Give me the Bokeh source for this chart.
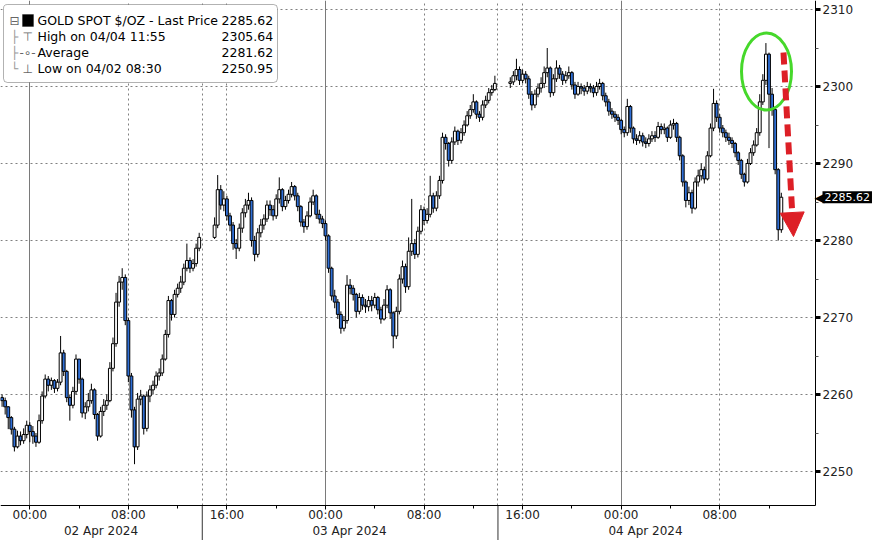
import pandas as pd
from bokeh.plotting import figure
from bokeh.models import (Range1d, FixedTicker, Grid, Label, BoxAnnotation, Arrow,
                          NormalHead, ColumnDataSource, LinearAxis)
from bokeh.embed import file_html
from bokeh.resources import INLINE

# ---------------- data (15-minute candles, GOLD SPOT $/OZ) ----------------
seg_start = ["2024-04-01 21:45", "2024-04-02 15:00", "2024-04-03 15:00"]
first_open = 2259.6

A_close = [2259.2, 2258.4,
           2257.0, 2255.5, 2253.2, 2254.6, 2254.0, 2254.8, 2256.0, 2255.2, 2254.6, 2253.8,
           2256.6, 2259.8, 2262.0, 2261.2, 2261.8, 2260.8, 2261.6, 2265.4, 2263.0, 2259.6,
           2258.6, 2260.4, 2264.6, 2262.0, 2257.6, 2258.4, 2259.2, 2260.6, 2257.4, 2254.6,
           2257.8, 2258.6, 2259.2, 2263.4, 2266.6, 2272.0, 2274.6, 2275.2, 2269.6, 2262.4,
           2258.0, 2253.2, 2259.4, 2259.8, 2255.6, 2259.8, 2260.6, 2261.2, 2262.4, 2262.8,
           2264.6, 2267.8, 2272.2, 2270.4, 2273.0, 2273.8, 2274.6, 2276.4, 2277.4, 2276.4,
           2277.0, 2279.0, 2280.4]
A_high = [2260.0, 2259.6,
          2258.5, 2257.2, 2255.8, 2255.3, 2255.2, 2255.6, 2256.6, 2256.4, 2255.9, 2255.0,
          2257.4, 2260.4, 2262.6, 2262.4, 2262.2, 2262.0, 2262.0, 2267.6, 2265.8, 2263.2,
          2260.0, 2261.0, 2265.2, 2264.6, 2262.2, 2259.0, 2260.2, 2261.4, 2260.8, 2257.6,
          2258.4, 2259.4, 2260.0, 2264.2, 2267.4, 2273.2, 2275.4, 2276.4, 2275.6, 2270.0,
          2262.8, 2258.4, 2260.2, 2260.6, 2260.0, 2260.4, 2261.2, 2261.8, 2263.0, 2263.4,
          2265.2, 2268.4, 2272.8, 2272.4, 2273.6, 2274.4, 2275.4, 2277.0, 2279.6, 2277.8,
          2277.6, 2279.6, 2281.0]
A_low = [2258.4, 2257.4,
         2255.5, 2254.8, 2252.6, 2253.0, 2253.4, 2253.6, 2254.3, 2253.8, 2253.6, 2253.2,
         2253.6, 2256.2, 2259.5, 2260.4, 2260.6, 2260.2, 2260.4, 2261.2, 2262.4, 2259.0,
         2256.6, 2258.2, 2260.0, 2261.4, 2257.0, 2256.8, 2257.8, 2258.8, 2256.8, 2254.0,
         2254.4, 2257.2, 2258.0, 2259.0, 2263.0, 2266.2, 2271.4, 2273.6, 2269.0, 2261.6,
         2257.0, 2250.95, 2252.8, 2258.6, 2254.8, 2255.2, 2259.0, 2260.0, 2260.8, 2261.8,
         2262.4, 2264.4, 2267.4, 2269.6, 2270.0, 2272.6, 2273.2, 2274.2, 2276.0, 2275.8,
         2276.0, 2276.6, 2278.6]

B_close = [2282.0, 2286.6, 2284.6, 2285.4, 2283.2, 2282.0, 2279.6, 2279.0, 2281.6, 2283.6,
           2284.6, 2285.2, 2280.0, 2278.2, 2281.0, 2282.0, 2282.8, 2284.6, 2284.0, 2283.2,
           2285.4, 2286.6, 2284.4, 2285.2, 2286.0, 2287.0, 2285.8, 2284.4, 2282.4, 2281.8,
           2283.2, 2285.0, 2285.8, 2283.4, 2282.8, 2282.2, 2280.6, 2276.4, 2272.8, 2272.0,
           2270.4, 2268.6, 2269.6, 2274.2, 2273.8, 2273.0, 2270.8, 2272.6, 2271.6, 2271.4,
           2272.2, 2271.6, 2272.6, 2271.0, 2269.8, 2271.6, 2273.6, 2270.6, 2267.6, 2270.8,
           2275.0, 2276.6, 2274.0, 2278.6, 2279.6, 2278.2, 2281.2, 2284.0, 2282.6, 2283.4,
           2285.8, 2284.2, 2285.8, 2287.8, 2293.4, 2292.6, 2290.4, 2292.8, 2294.2, 2293.0,
           2294.0, 2295.0, 2296.2, 2297.0, 2298.0, 2296.4, 2296.0, 2297.6, 2298.2, 2299.2,
           2299.6, 2300.4]
B_high = [2283.0, 2288.5, 2287.2, 2286.4, 2285.8, 2283.6, 2282.4, 2280.2, 2282.2, 2284.2,
          2285.4, 2286.2, 2285.6, 2280.6, 2281.6, 2282.8, 2283.4, 2285.2, 2285.2, 2284.6,
          2286.0, 2288.2, 2286.8, 2285.8, 2286.6, 2287.6, 2287.2, 2286.2, 2284.6, 2282.8,
          2283.8, 2285.6, 2286.6, 2286.0, 2284.0, 2283.2, 2282.6, 2280.8, 2276.6, 2273.6,
          2272.4, 2270.8, 2270.2, 2275.5, 2275.0, 2274.2, 2273.2, 2273.2, 2273.0, 2272.4,
          2272.8, 2272.8, 2273.2, 2272.8, 2271.4, 2272.4, 2274.2, 2273.8, 2270.8, 2271.4,
          2275.6, 2277.4, 2277.0, 2280.4, 2285.4, 2280.2, 2281.8, 2284.6, 2284.4, 2284.2,
          2288.4, 2286.2, 2286.4, 2288.4, 2294.0, 2293.8, 2292.8, 2293.4, 2294.8, 2294.4,
          2294.6, 2295.6, 2296.8, 2297.6, 2299.0, 2298.2, 2296.8, 2298.2, 2298.8, 2299.8,
          2300.2, 2301.4]
B_low = [2280.2, 2281.6, 2284.0, 2283.8, 2282.6, 2281.2, 2278.8, 2277.6, 2278.6, 2281.0,
         2283.0, 2284.0, 2279.2, 2277.3, 2277.8, 2280.4, 2281.4, 2282.4, 2283.2, 2282.6,
         2282.8, 2284.8, 2283.8, 2284.0, 2284.8, 2285.6, 2285.2, 2283.8, 2281.8, 2281.0,
         2281.4, 2283.0, 2284.6, 2282.8, 2282.2, 2281.6, 2280.0, 2275.8, 2272.2, 2271.2,
         2269.8, 2267.9, 2268.2, 2269.2, 2273.0, 2272.2, 2270.0, 2270.4, 2271.0, 2270.6,
         2270.8, 2270.8, 2271.2, 2270.4, 2269.2, 2269.6, 2271.2, 2269.8, 2266.0, 2267.2,
         2270.4, 2274.4, 2273.2, 2273.6, 2278.0, 2277.6, 2277.8, 2280.8, 2282.0, 2282.2,
         2283.0, 2283.6, 2283.8, 2285.4, 2287.4, 2291.8, 2289.6, 2290.0, 2292.4, 2292.4,
         2292.6, 2293.6, 2294.8, 2295.8, 2296.6, 2295.8, 2295.4, 2295.6, 2297.2, 2297.8,
         2298.8, 2299.4]

C_close = [2300.6, 2301.4, 2302.2, 2300.8, 2301.6, 2301.0, 2299.0, 2297.6, 2299.0, 2299.8,
           2300.4, 2301.8, 2302.4, 2299.2, 2301.0, 2302.4, 2301.6, 2300.8, 2301.4, 2301.8,
           2300.2, 2299.0, 2300.0, 2299.8, 2299.4, 2300.0, 2299.8, 2299.2, 2300.0, 2300.4,
           2298.8, 2298.0, 2296.8, 2296.4, 2296.0, 2295.6, 2294.4, 2294.0, 2297.4, 2294.6,
           2293.2, 2293.0, 2293.6, 2292.8, 2292.6, 2293.2, 2293.6, 2293.4, 2294.8, 2294.4,
           2294.6, 2293.4, 2295.0, 2295.2, 2293.4, 2291.0, 2287.6, 2285.2, 2286.2, 2284.2,
           2287.6, 2288.4, 2289.2, 2288.0, 2291.0, 2294.6, 2297.8, 2296.0, 2294.6, 2294.0,
           2293.4, 2293.0, 2292.6, 2291.4, 2290.4, 2288.6, 2287.6, 2290.0, 2291.4, 2292.4,
           2294.0, 2298.0, 2300.8, 2304.2, 2299.0, 2297.0, 2289.2, 2281.4, 2285.62]
C_high = [2301.2, 2302.0, 2303.6, 2302.6, 2302.2, 2302.0, 2301.4, 2299.4, 2299.6, 2300.4,
          2301.2, 2302.6, 2305.0, 2302.6, 2301.6, 2303.4, 2302.8, 2302.0, 2302.0, 2302.6,
          2302.0, 2300.6, 2300.6, 2300.4, 2300.2, 2300.6, 2300.4, 2300.2, 2300.6, 2301.0,
          2300.6, 2299.2, 2298.4, 2297.2, 2296.8, 2296.4, 2295.8, 2294.8, 2298.4, 2297.6,
          2294.8, 2293.8, 2294.2, 2294.0, 2293.4, 2293.8, 2294.2, 2294.2, 2295.4, 2295.2,
          2295.2, 2294.8, 2295.6, 2295.8, 2295.4, 2293.6, 2291.2, 2287.8, 2287.0, 2286.6,
          2288.2, 2289.2, 2290.0, 2289.6, 2291.6, 2295.2, 2299.7, 2298.2, 2296.4, 2295.0,
          2294.4, 2294.0, 2293.4, 2292.8, 2291.6, 2290.6, 2288.8, 2290.6, 2292.0, 2293.0,
          2294.6, 2299.0, 2301.6, 2305.64, 2304.4, 2299.8, 2297.4, 2289.4, 2286.2]
C_low = [2299.8, 2300.2, 2300.8, 2300.2, 2300.4, 2300.4, 2298.4, 2296.9, 2297.2, 2298.6,
         2299.2, 2299.8, 2301.2, 2298.6, 2298.8, 2300.6, 2301.0, 2300.2, 2300.4, 2301.0,
         2299.6, 2298.4, 2298.8, 2299.0, 2298.8, 2299.0, 2299.2, 2298.6, 2298.8, 2299.6,
         2298.2, 2297.4, 2296.2, 2295.8, 2295.4, 2295.0, 2293.8, 2293.4, 2293.6, 2294.0,
         2292.6, 2292.4, 2292.6, 2292.2, 2292.0, 2292.2, 2292.8, 2292.8, 2293.2, 2293.8,
         2293.8, 2292.8, 2293.2, 2294.4, 2292.8, 2290.4, 2287.0, 2284.3, 2284.6, 2283.5,
         2284.0, 2287.0, 2287.8, 2287.4, 2287.8, 2290.8, 2294.2, 2295.4, 2294.0, 2293.4,
         2292.8, 2292.4, 2292.0, 2290.8, 2289.8, 2288.0, 2287.0, 2287.4, 2289.8, 2291.0,
         2292.2, 2293.6, 2297.6, 2300.2, 2292.0, 2296.2, 2288.6, 2280.0, 2281.0]

# axis ticks / labels
time_ticks = [0, 8, 16, 24, 32, 40, 48, 56]
time_labels = ["00:00", "08:00", "16:00", "00:00", "08:00", "16:00", "00:00", "08:00"]
time_minor = [-4, 4, 12, 20, 28, 36, 44, 52, 60]
day_lines = [0, 24, 48]
dotted_lines = [8, 14, 16, 32, 38, 40, 56]
session_breaks = [14, 38]
date_labels = ["02 Apr 2024", "03 Apr 2024", "04 Apr 2024"]
price_ticks = [2250, 2260, 2270, 2280, 2290, 2300, 2310]
price_minor = [2255, 2265, 2275, 2285, 2295, 2305]

legend_names = ["GOLD SPOT $/OZ - Last Price", "High on 04/04 11:55", "Average", "Low on 04/02 08:30"]
legend_values = ["2285.62", "2305.64", "2281.62", "2250.95"]
last_price = 2285.62

# ---------------- build candles ----------------
base = pd.Timestamp("2024-04-02 00:00")


def hrs(ts):
    return (pd.Timestamp(ts) - base) / pd.Timedelta(hours=1)


t, close, high, low = [], [], [], []
for start, c, h, l in zip(seg_start, [A_close, B_close, C_close],
                          [A_high, B_high, C_high], [A_low, B_low, C_low]):
    assert len(c) == len(h) == len(l), (len(c), len(h), len(l))
    h0 = hrs(start)
    t += [h0 + 0.25 * i for i in range(len(c))]
    close += c
    high += h
    low += l

opn = [first_open] + close[:-1]
top = [max(o, c) for o, c in zip(opn, close)]
bot = [min(o, c) for o, c in zip(opn, close)]
hi = [max(h, tp) for h, tp in zip(high, top)]
lo = [min(l, b) for l, b in zip(low, bot)]
BLUE = "#2f6fd6"
fill = ["white" if c >= o else BLUE for o, c in zip(opn, close)]
src = ColumnDataSource(dict(t=t, top=top, bot=bot, hi=hi, lo=lo, fill=fill))

# ---------------- figure ----------------
FONT = "DejaVu Sans"
# reference-pixel -> data helpers (used for layout / annotation placement only)
X0, PXH = 29.3, 12.32
Y0, PXP = 471.0, 7.7


def hx(px):
    return (px - X0) / PXH


def py(px):
    return 2250 + (Y0 - px) / PXP


X_AXIS_AT = py(505)     # price level where the time axis sits
Y_AXIS_AT = hx(815)     # time where the price axis sits

p = figure(width=872, height=540, output_backend="svg", toolbar_location=None,
           x_range=Range1d(hx(0), hx(872)), y_range=Range1d(py(540), py(0)),
           y_axis_location="right", min_border=0)
p.outline_line_color = None
p.background_fill_color = "white"
p.border_fill_color = "white"
p.xgrid.visible = False

# horizontal dotted grid
p.ygrid.ticker = FixedTicker(ticks=price_ticks)
p.ygrid.grid_line_color = "#808080"
p.ygrid.grid_line_dash = "2 3"
p.ygrid.grid_line_width = 1

g_solid = Grid(dimension=0, ticker=FixedTicker(ticks=day_lines),
               grid_line_color="#7a7a7a", grid_line_width=1)
g_dot = Grid(dimension=0, ticker=FixedTicker(ticks=dotted_lines),
             grid_line_color="#808080", grid_line_dash="2 3", grid_line_width=1)
p.add_layout(g_solid)
p.add_layout(g_dot)

# white margins (outside the chart frame) that hide the grid lines there
p.add_layout(BoxAnnotation(left=Y_AXIS_AT, fill_color="white", fill_alpha=1,
                           line_color=None, level="underlay"))
p.add_layout(BoxAnnotation(top=X_AXIS_AT, fill_color="white", fill_alpha=1,
                           line_color=None, level="underlay"))
# session separators continue through the time axis
p.segment(x0=session_breaks, x1=session_breaks, y0=[X_AXIS_AT] * len(session_breaks),
          y1=[py(540)] * len(session_breaks), line_color="#333333", line_width=1)

# x axis (times)
xa = p.xaxis[0]
xa.fixed_location = X_AXIS_AT
xa.bounds = (hx(0), Y_AXIS_AT)
xa.ticker = FixedTicker(ticks=time_ticks, minor_ticks=time_minor)
xa.major_label_overrides = {k: v for k, v in zip(time_ticks, time_labels)}
xa.axis_line_color = "black"
xa.major_tick_in = 0
xa.major_tick_out = 4
xa.minor_tick_in = 0
xa.minor_tick_out = 3
xa.major_tick_line_color = "black"
xa.minor_tick_line_color = "black"
xa.major_label_standoff = -2
xa.major_label_text_font = FONT
xa.major_label_text_font_size = "12px"
xa.major_label_text_color = "#222222"

# second x axis (dates)
date_pos = [round(hx(100.5), 3), round(hx(349), 3), round(hx(645), 3)]
da = LinearAxis(ticker=FixedTicker(ticks=date_pos), fixed_location=X_AXIS_AT,
                major_label_overrides={k: v for k, v in zip(date_pos, date_labels)},
                axis_line_color=None, major_tick_line_color=None, minor_tick_line_color=None,
                major_tick_in=0, major_tick_out=0, minor_tick_in=0, minor_tick_out=0,
                major_label_standoff=18, major_label_text_font=FONT,
                major_label_text_font_size="12px", major_label_text_color="#222222")
p.add_layout(da, "below")

# y axis (right)
ya = p.yaxis[0]
ya.fixed_location = Y_AXIS_AT
ya.bounds = (X_AXIS_AT, py(0))
ya.ticker = FixedTicker(ticks=price_ticks, minor_ticks=price_minor)
ya.axis_line_color = "black"
ya.major_tick_in = 0
ya.major_tick_out = 5
ya.major_tick_line_width = 3
ya.major_tick_line_color = "black"
ya.minor_tick_in = 0
ya.minor_tick_out = 3
ya.minor_tick_line_color = "#555555"
ya.major_label_standoff = 2
ya.major_label_text_font = FONT
ya.major_label_text_font_size = "12px"
ya.major_label_text_color = "#222222"

# candles
p.segment(x0="t", y0="lo", x1="t", y1="hi", source=src, line_color="black", line_width=1)
p.vbar(x="t", width=0.23, top="top", bottom="bot", source=src,
       fill_color="fill", line_color="black", line_width=1)

# green ellipse around the high
p.ellipse(x=[hx(766)], y=[py(71)], width=50 / PXH, height=77 / PXP,
          fill_alpha=0, line_color="#46d82b", line_width=3)

# red dashed arrow
RED = "#dd1f26"
p.add_layout(Arrow(x_start=hx(783), y_start=py(52), x_end=hx(793), y_end=py(236),
                   line_color=RED, line_width=6, line_dash="12 6",
                   end=NormalHead(size=24, fill_color=RED, line_color=RED, line_width=1)))

# last price marker on the price axis
p.add_layout(Label(x=hx(824), y=last_price, text="\u25c0", text_align="right",
                   text_baseline="middle", text_font=FONT, text_font_size="13px",
                   text_color="black"))
p.add_layout(Label(x=hx(822), y=last_price, text="2285.62", text_baseline="middle",
                   text_font=FONT, text_font_size="11px", text_color="white",
                   background_fill_color="black", padding=2))

# legend box
p.add_layout(BoxAnnotation(left=hx(3), right=hx(277), top=py(4), bottom=py(82),
                           fill_color="white", fill_alpha=1, line_color="black",
                           line_width=1, border_radius=4))
p.add_layout(BoxAnnotation(left=hx(22), right=hx(33), top=py(14), bottom=py(26),
                           fill_color="black", fill_alpha=1, line_color="black"))
rows = [20, 36, 52, 68]
for yy, name, val in zip(rows, legend_names, legend_values):
    p.add_layout(Label(x=hx(37), y=py(yy), text=name, text_baseline="middle",
                       text_font=FONT, text_font_size="12.5px", text_color="black"))
    p.add_layout(Label(x=hx(221), y=py(yy), text=val, text_align="left",
                       text_baseline="middle", text_font=FONT, text_font_size="12.5px",
                       text_color="black"))
icons = ["\u229f", "\u22a4", "-\u2218-", "\u22a5"]
icon_x = [9, 22, 19, 22]
for yy, ic, xx in zip(rows, icons, icon_x):
    p.add_layout(Label(x=hx(xx), y=py(yy), text=ic, text_baseline="middle",
                       text_font=FONT, text_font_size="12px", text_color="#666666"))
for yy, ic in zip(rows[1:], ["\u251c", "\u251c", "\u2514"]):
    p.add_layout(Label(x=hx(10.5), y=py(yy), text=ic, text_baseline="middle",
                       text_font=FONT, text_font_size="12px", text_color="#999999"))

open("out.html", "w").write(file_html(p, INLINE, title="Gold spot"))
